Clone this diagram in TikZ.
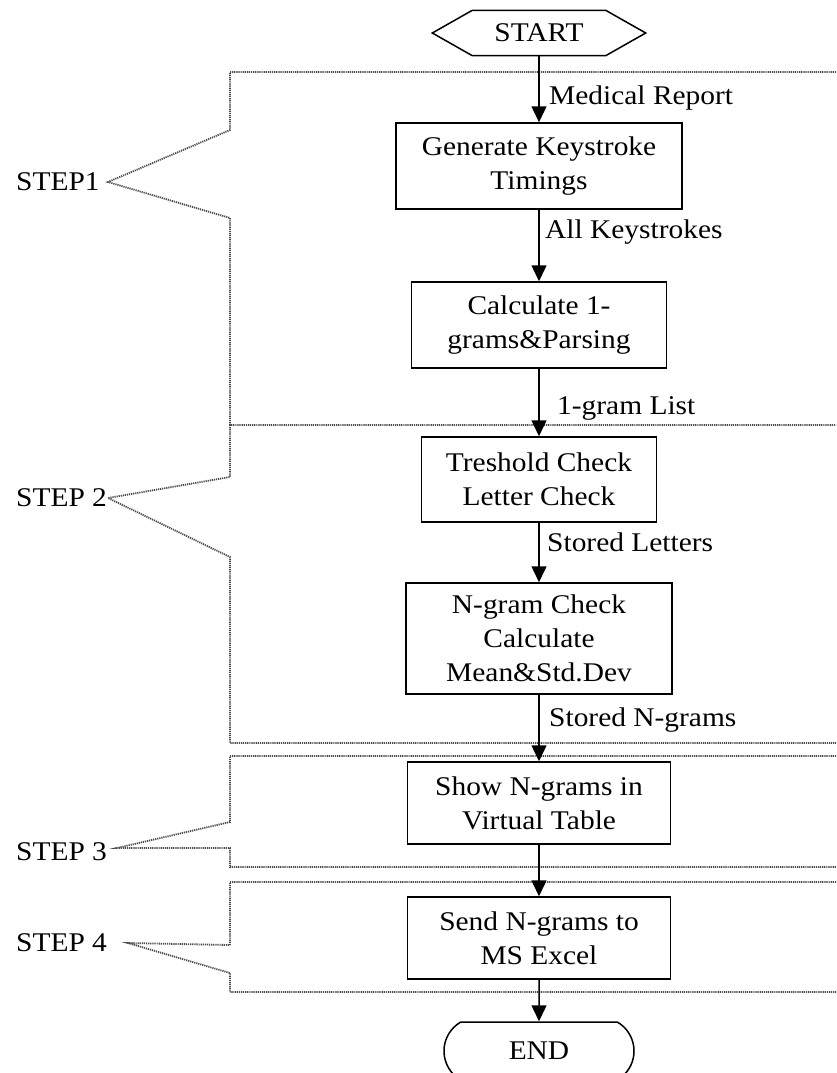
\documentclass[tikz,border=0pt]{standalone}
\usepackage{fontspec}
\setmainfont{Liberation Serif}[FakeStretch=1.09]
\usetikzlibrary{arrows.meta,shapes.misc,calc}

\begin{document}
\begin{tikzpicture}[x=1pt,y=-1pt,
  every node/.style={font=\fontsize{27}{34}\selectfont, inner sep=0pt},
  stepbox/.style={draw, line width=1.5pt, align=center, fill=white},
  flow/.style={line width=1.5pt, -{Triangle[width=15pt,length=16pt]}},
  region/.style={line width=1.8pt, dash pattern=on 1.2pt off 0.9pt, color=black!70},
  lab/.style={anchor=west},
]
\fill[white] (0,0) rectangle (836,1073);
\useasboundingbox (0,0) rectangle (836,1073);

% dotted step regions and their brackets
\coordinate (t1) at (108,182);
\coordinate (t2) at (108,498);
\coordinate (t3) at (117,848);
\coordinate (t4) at (128,943);
\draw[region] (836,72) -- (230,72) -- (230,130) -- (t1) -- (230,218) -- (230,425) -- (836,425);
\draw[region] (230,425) -- (230,477) -- (t2) -- (230,557) -- (230,743) -- (836,743);
\draw[region] (836,756) -- (230,756) -- (230,822) -- (t3) -- (230,848) -- (230,867) -- (836,867);
\draw[region] (836,882) -- (230,882) -- (230,945) -- (t4) -- (230,973) -- (230,992) -- (836,992);

% step labels
\node[lab] (s1) at (16,182) {STEP1};
\node[lab] (s2) at (16,498) {STEP 2};
\node[lab] (s3) at (16,852) {STEP 3};
\node[lab] (s4) at (16,943) {STEP 4};

% terminal and process nodes
\node[minimum width=213pt, minimum height=45pt] (start) at (539,33) {START};
\draw[line width=1.5pt] (start.west) -- ($(start.north west)+(40,0)$) -- ($(start.north east)+(-40,0)$)
  -- (start.east) -- ($(start.south east)+(-40,0)$) -- ($(start.south west)+(40,0)$) -- cycle;

\node[stepbox, minimum width=286pt, minimum height=86pt] (gen) at (539,166) {Generate Keystroke\\Timings};
\node[stepbox, minimum width=255pt, minimum height=86pt] (calc1) at (539,325) {Calculate 1-\\grams\&Parsing};
\node[stepbox, minimum width=235pt, minimum height=85pt] (thr) at (539,479.5) {Treshold Check\\Letter Check};
\node[stepbox, minimum width=266pt, minimum height=111pt] (ngr) at (539,638.5) {N-gram Check\\Calculate\\Mean\&Std.Dev};
\node[stepbox, minimum width=263pt, minimum height=82pt] (show) at (539,803) {Show N-grams in\\Virtual Table};
\node[stepbox, minimum width=263pt, minimum height=82pt] (send) at (539,938) {Send N-grams to\\MS Excel};
\node[draw, line width=1.5pt, rounded rectangle, rounded rectangle arc length=120,
  minimum width=190pt, minimum height=58pt] (end) at (539,1051) {END};

% flow arrows
\draw[flow] (start) -- (gen);
\draw[flow] (gen) -- (calc1);
\draw[flow] (calc1) -- (thr);
\draw[flow] (thr) -- (ngr);
\draw[flow] (ngr) -- (show);
\draw[flow] (show) -- (send);
\draw[flow] (send) -- (end);

% arrow labels
\node[lab] (l1) at (549,98) {Medical Report};
\node[lab] (l2) at (545,232) {All Keystrokes};
\node[lab] (l3) at (557,408) {1-gram List};
\node[lab] (l4) at (547,542) {Stored Letters};
\node[lab] (l5) at (549,720) {Stored N-grams};
\end{tikzpicture}
\end{document}
